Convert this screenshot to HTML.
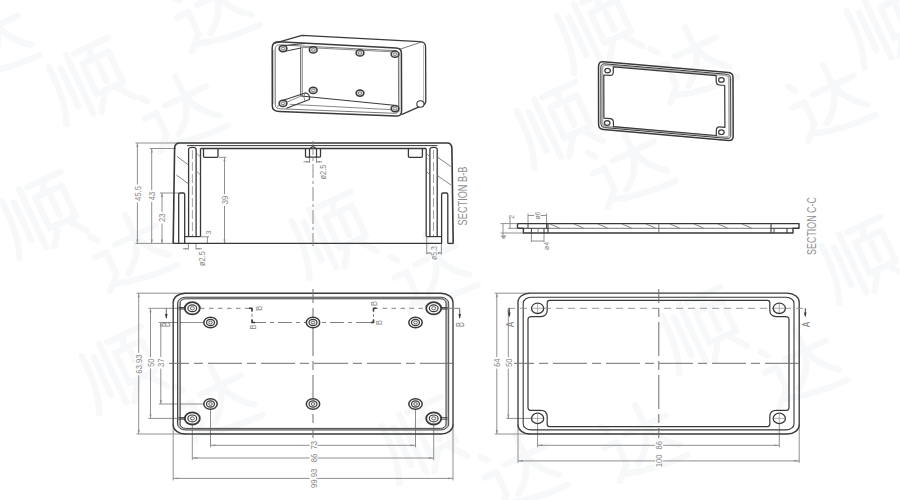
<!DOCTYPE html>
<html><head><meta charset="utf-8"><title>Enclosure drawing</title>
<style>
html,body{margin:0;padding:0;background:#fff;}
body{width:900px;height:500px;overflow:hidden;font-family:"Liberation Sans",sans-serif;}
svg{display:block;}
svg text{font-family:"Liberation Sans",sans-serif;}
</style></head><body>
<svg width="900" height="500" viewBox="0 0 900 500">
<rect width="900" height="500" fill="#fff"/>
<g fill="none" stroke="#f7f8fa" stroke-width="8" stroke-linecap="round" stroke-linejoin="round">
<path d="M14,14 Q16,60 4,88 M27,22 V74 M40,10 V90 M50,12 H96 M72,12 L66,26 M54,28 H90 V70 H54 Z M72,36 V60 M63,74 L50,93 M81,74 L95,93" transform="translate(87,81) rotate(-25) scale(0.8) translate(-50,-50)"/>
<path d="M12,14 L18,22 M6,40 H22 V70 L6,86 M14,80 Q50,92 96,92 M36,36 H92 M63,8 V36 Q58,62 36,76 M64,38 Q72,62 92,76" transform="translate(180,111) rotate(-25) scale(0.8) translate(-50,-50)"/>
<path d="M12,14 L18,22 M6,40 H22 V70 L6,86 M14,80 Q50,92 96,92 M36,36 H92 M63,8 V36 Q58,62 36,76 M64,38 Q72,62 92,76" transform="translate(212,10) rotate(-25) scale(0.8) translate(-50,-50)"/>
<path d="M12,14 L18,22 M6,40 H22 V70 L6,86 M14,80 Q50,92 96,92 M36,36 H92 M63,8 V36 Q58,62 36,76 M64,38 Q72,62 92,76" transform="translate(-8,40) rotate(-25) scale(0.8) translate(-50,-50)"/>
<path d="M14,14 Q16,60 4,88 M27,22 V74 M40,10 V90 M50,12 H96 M72,12 L66,26 M54,28 H90 V70 H54 Z M72,36 V60 M63,74 L50,93 M81,74 L95,93" transform="translate(595,30) rotate(-25) scale(0.8) translate(-50,-50)"/>
<path d="M12,14 L18,22 M6,40 H22 V70 L6,86 M14,80 Q50,92 96,92 M36,36 H92 M63,8 V36 Q58,62 36,76 M64,38 Q72,62 92,76" transform="translate(690,62) rotate(-25) scale(0.8) translate(-50,-50)"/>
<path d="M14,14 Q16,60 4,88 M27,22 V74 M40,10 V90 M50,12 H96 M72,12 L66,26 M54,28 H90 V70 H54 Z M72,36 V60 M63,74 L50,93 M81,74 L95,93" transform="translate(555,125) rotate(-25) scale(0.8) translate(-50,-50)"/>
<path d="M12,14 L18,22 M6,40 H22 V70 L6,86 M14,80 Q50,92 96,92 M36,36 H92 M63,8 V36 Q58,62 36,76 M64,38 Q72,62 92,76" transform="translate(628,166) rotate(-25) scale(0.8) translate(-50,-50)"/>
<path d="M12,14 L18,22 M6,40 H22 V70 L6,86 M14,80 Q50,92 96,92 M36,36 H92 M63,8 V36 Q58,62 36,76 M64,38 Q72,62 92,76" transform="translate(828,100) rotate(-25) scale(0.8) translate(-50,-50)"/>
<path d="M14,14 Q16,60 4,88 M27,22 V74 M40,10 V90 M50,12 H96 M72,12 L66,26 M54,28 H90 V70 H54 Z M72,36 V60 M63,74 L50,93 M81,74 L95,93" transform="translate(885,25) rotate(-25) scale(0.8) translate(-50,-50)"/>
<path d="M14,14 Q16,60 4,88 M27,22 V74 M40,10 V90 M50,12 H96 M72,12 L66,26 M54,28 H90 V70 H54 Z M72,36 V60 M63,74 L50,93 M81,74 L95,93" transform="translate(40,215) rotate(-25) scale(0.8) translate(-50,-50)"/>
<path d="M12,14 L18,22 M6,40 H22 V70 L6,86 M14,80 Q50,92 96,92 M36,36 H92 M63,8 V36 Q58,62 36,76 M64,38 Q72,62 92,76" transform="translate(130,250) rotate(-25) scale(0.8) translate(-50,-50)"/>
<path d="M14,14 Q16,60 4,88 M27,22 V74 M40,10 V90 M50,12 H96 M72,12 L66,26 M54,28 H90 V70 H54 Z M72,36 V60 M63,74 L50,93 M81,74 L95,93" transform="translate(330,235) rotate(-25) scale(0.8) translate(-50,-50)"/>
<path d="M12,14 L18,22 M6,40 H22 V70 L6,86 M14,80 Q50,92 96,92 M36,36 H92 M63,8 V36 Q58,62 36,76 M64,38 Q72,62 92,76" transform="translate(430,270) rotate(-25) scale(0.8) translate(-50,-50)"/>
<path d="M14,14 Q16,60 4,88 M27,22 V74 M40,10 V90 M50,12 H96 M72,12 L66,26 M54,28 H90 V70 H54 Z M72,36 V60 M63,74 L50,93 M81,74 L95,93" transform="translate(120,370) rotate(-25) scale(0.8) translate(-50,-50)"/>
<path d="M12,14 L18,22 M6,40 H22 V70 L6,86 M14,80 Q50,92 96,92 M36,36 H92 M63,8 V36 Q58,62 36,76 M64,38 Q72,62 92,76" transform="translate(215,400) rotate(-25) scale(0.8) translate(-50,-50)"/>
<path d="M14,14 Q16,60 4,88 M27,22 V74 M40,10 V90 M50,12 H96 M72,12 L66,26 M54,28 H90 V70 H54 Z M72,36 V60 M63,74 L50,93 M81,74 L95,93" transform="translate(700,330) rotate(-25) scale(0.8) translate(-50,-50)"/>
<path d="M12,14 L18,22 M6,40 H22 V70 L6,86 M14,80 Q50,92 96,92 M36,36 H92 M63,8 V36 Q58,62 36,76 M64,38 Q72,62 92,76" transform="translate(800,365) rotate(-25) scale(0.8) translate(-50,-50)"/>
<path d="M14,14 Q16,60 4,88 M27,22 V74 M40,10 V90 M50,12 H96 M72,12 L66,26 M54,28 H90 V70 H54 Z M72,36 V60 M63,74 L50,93 M81,74 L95,93" transform="translate(420,440) rotate(-25) scale(0.8) translate(-50,-50)"/>
<path d="M12,14 L18,22 M6,40 H22 V70 L6,86 M14,80 Q50,92 96,92 M36,36 H92 M63,8 V36 Q58,62 36,76 M64,38 Q72,62 92,76" transform="translate(520,470) rotate(-25) scale(0.8) translate(-50,-50)"/>
<path d="M14,14 Q16,60 4,88 M27,22 V74 M40,10 V90 M50,12 H96 M72,12 L66,26 M54,28 H90 V70 H54 Z M72,36 V60 M63,74 L50,93 M81,74 L95,93" transform="translate(860,260) rotate(-25) scale(0.8) translate(-50,-50)"/>
<path d="M12,14 L18,22 M6,40 H22 V70 L6,86 M14,80 Q50,92 96,92 M36,36 H92 M63,8 V36 Q58,62 36,76 M64,38 Q72,62 92,76" transform="translate(640,440) rotate(-25) scale(0.8) translate(-50,-50)"/>
</g>
<g stroke-linecap="butt" stroke-linejoin="round">
<line x1="136.5" y1="293.2" x2="186" y2="293.2" stroke="#909090" stroke-width="1"/>
<line x1="136.5" y1="434.0" x2="186" y2="434.0" stroke="#909090" stroke-width="1"/>
<line x1="138.7" y1="293.2" x2="138.7" y2="434.0" stroke="#909090" stroke-width="1"/>
<path d="M138.7,293.2 L137.6,297.2 L139.79999999999998,297.2 Z" fill="#909090"/>
<path d="M138.7,434.0 L137.6,430.0 L139.79999999999998,430.0 Z" fill="#909090"/>
<rect x="134.8" y="352.9" width="7.8" height="22.3" fill="#fff"/>
<text transform="translate(142.1,364) rotate(-90)" text-anchor="middle" font-size="9.5" textLength="19.3" lengthAdjust="spacingAndGlyphs" fill="#858585">63.93</text>
<line x1="148.5" y1="308.3" x2="185" y2="308.3" stroke="#909090" stroke-width="1"/>
<line x1="148.5" y1="418.4" x2="185" y2="418.4" stroke="#909090" stroke-width="1"/>
<line x1="150.5" y1="308.3" x2="150.5" y2="418.4" stroke="#909090" stroke-width="1"/>
<path d="M150.5,308.3 L149.4,312.3 L151.6,312.3 Z" fill="#909090"/>
<path d="M150.5,418.4 L149.4,414.4 L151.6,414.4 Z" fill="#909090"/>
<rect x="146.6" y="357.0" width="7.8" height="11.6" fill="#fff"/>
<text transform="translate(153.9,362.8) rotate(-90)" text-anchor="middle" font-size="9.5" textLength="8.6" lengthAdjust="spacingAndGlyphs" fill="#858585">50</text>
<line x1="158.8" y1="322.5" x2="204" y2="322.5" stroke="#909090" stroke-width="1"/>
<line x1="158.8" y1="404" x2="204" y2="404" stroke="#909090" stroke-width="1"/>
<line x1="160.8" y1="322.5" x2="160.8" y2="404" stroke="#909090" stroke-width="1"/>
<path d="M160.8,322.5 L159.70000000000002,326.5 L161.9,326.5 Z" fill="#909090"/>
<path d="M160.8,404 L159.70000000000002,400 L161.9,400 Z" fill="#909090"/>
<rect x="156.9" y="357.0" width="7.8" height="11.6" fill="#fff"/>
<text transform="translate(164.2,362.8) rotate(-90)" text-anchor="middle" font-size="9.5" textLength="8.6" lengthAdjust="spacingAndGlyphs" fill="#858585">37</text>
<line x1="210.5" y1="404" x2="210.5" y2="447.3" stroke="#909090" stroke-width="1"/>
<line x1="415.5" y1="404" x2="415.5" y2="447.3" stroke="#909090" stroke-width="1"/>
<line x1="210.5" y1="445.3" x2="415.5" y2="445.3" stroke="#909090" stroke-width="1"/>
<path d="M210.5,445.3 L215.5,444.40000000000003 L215.5,446.2 Z" fill="#909090"/>
<path d="M415.5,445.3 L410.5,444.40000000000003 L410.5,446.2 Z" fill="#909090"/>
<rect x="309.6" y="439.5" width="7.8" height="11.6" fill="#fff"/>
<text transform="translate(316.9,445.3) rotate(-90)" text-anchor="middle" font-size="9.5" textLength="8.6" lengthAdjust="spacingAndGlyphs" fill="#858585">73</text>
<line x1="192.3" y1="418.4" x2="192.3" y2="460" stroke="#909090" stroke-width="1"/>
<line x1="433.7" y1="418.4" x2="433.7" y2="460" stroke="#909090" stroke-width="1"/>
<line x1="192.3" y1="458" x2="433.7" y2="458" stroke="#909090" stroke-width="1"/>
<path d="M192.3,458 L197.3,457.1 L197.3,458.9 Z" fill="#909090"/>
<path d="M433.7,458 L428.7,457.1 L428.7,458.9 Z" fill="#909090"/>
<rect x="309.6" y="452.2" width="7.8" height="11.6" fill="#fff"/>
<text transform="translate(316.9,458) rotate(-90)" text-anchor="middle" font-size="9.5" textLength="8.6" lengthAdjust="spacingAndGlyphs" fill="#858585">86</text>
<line x1="173.2" y1="424" x2="173.2" y2="480.4" stroke="#909090" stroke-width="1"/>
<line x1="453.0" y1="424" x2="453.0" y2="480.4" stroke="#909090" stroke-width="1"/>
<line x1="173.2" y1="478.4" x2="453.0" y2="478.4" stroke="#909090" stroke-width="1"/>
<path d="M173.2,478.4 L178.2,477.5 L178.2,479.29999999999995 Z" fill="#909090"/>
<path d="M453.0,478.4 L448.0,477.5 L448.0,479.29999999999995 Z" fill="#909090"/>
<rect x="309.6" y="467.2" width="7.8" height="22.3" fill="#fff"/>
<text transform="translate(316.9,478.4) rotate(-90)" text-anchor="middle" font-size="9.5" textLength="19.3" lengthAdjust="spacingAndGlyphs" fill="#858585">99.93</text>
<rect x="173.2" y="293.2" width="279.8" height="140.8" rx="12" ry="9" stroke="#383838" stroke-width="1.35" fill="none"/>
<path d="M185.5,297.2 H440.7 A8,6 0 0 1 448.7,303.2 V424.0 A8,6 0 0 1 440.7,430.0 H185.5 A8,6 0 0 1 177.5,424.0 V303.2 A8,6 0 0 1 185.5,297.2 Z M185.7,298.8 H440.5 A5.5,4.2 0 0 1 446.0,303.0 V424.20000000000005 A5.5,4.2 0 0 1 440.5,428.40000000000003 H185.7 A5.5,4.2 0 0 1 180.2,424.20000000000005 V303.0 A5.5,4.2 0 0 1 185.7,298.8 Z" fill="#c2c2c2" fill-rule="evenodd" stroke="none"/>
<rect x="177.5" y="297.2" width="271.2" height="132.8" rx="8" ry="6" stroke="#383838" stroke-width="0.9" fill="none"/>
<rect x="180.2" y="298.8" width="265.8" height="129.60000000000002" rx="5.5" ry="4.2" stroke="#383838" stroke-width="0.9" fill="none"/>
<line x1="313.0" y1="289" x2="313.0" y2="438" stroke="#6e6e6e" stroke-width="1" stroke-dasharray="34 5 9 5" stroke-dashoffset="20"/>
<line x1="169" y1="363.3" x2="457" y2="363.3" stroke="#6e6e6e" stroke-width="1" stroke-dasharray="34 5 9 5" stroke-dashoffset="14"/>
<line x1="200" y1="308.3" x2="252" y2="308.3" stroke="#808080" stroke-width="1" stroke-dasharray="4.5 4.5"/>
<line x1="252" y1="308.3" x2="252" y2="322.5" stroke="#808080" stroke-width="1" stroke-dasharray="3 2.5"/>
<line x1="252" y1="322.5" x2="373.5" y2="322.5" stroke="#808080" stroke-width="1" stroke-dasharray="14 4 4 4"/>
<line x1="373.5" y1="322.5" x2="373.5" y2="308.3" stroke="#808080" stroke-width="1" stroke-dasharray="3 2.5"/>
<line x1="373.5" y1="308.3" x2="426" y2="308.3" stroke="#808080" stroke-width="1" stroke-dasharray="4.5 4.5"/>
<line x1="441" y1="308.3" x2="459.7" y2="308.3" stroke="#808080" stroke-width="1"/>
<path d="M249,308.3 H252 V311.5" stroke="#383838" stroke-width="1.6" fill="none"/>
<path d="M252,319.5 V322.5 H255" stroke="#383838" stroke-width="1.6" fill="none"/>
<path d="M376.5,308.3 H373.5 V311.5" stroke="#383838" stroke-width="1.6" fill="none"/>
<path d="M373.5,319.5 V322.5 H370.5" stroke="#383838" stroke-width="1.6" fill="none"/>
<line x1="166.3" y1="308.3" x2="166.3" y2="318" stroke="#666" stroke-width="1"/>
<path d="M166.3,319 L165.0,314 L167.60000000000002,314 Z" fill="#383838"/>
<line x1="459.7" y1="308.3" x2="459.7" y2="318" stroke="#666" stroke-width="1"/>
<path d="M459.7,319 L458.4,314 L461.0,314 Z" fill="#383838"/>
<text transform="translate(169.6,324.6) rotate(-90)" text-anchor="middle" font-size="11" textLength="5" lengthAdjust="spacingAndGlyphs" fill="#858585">B</text>
<text transform="translate(463.7,324.6) rotate(-90)" text-anchor="middle" font-size="11" textLength="5" lengthAdjust="spacingAndGlyphs" fill="#858585">B</text>
<text transform="translate(262.0,308.3) rotate(-90)" text-anchor="middle" font-size="9.5" textLength="5" lengthAdjust="spacingAndGlyphs" fill="#858585">B</text>
<text transform="translate(256.0,327.0) rotate(-90)" text-anchor="middle" font-size="9.5" textLength="5" lengthAdjust="spacingAndGlyphs" fill="#858585">B</text>
<text transform="translate(376.8,303.6) rotate(-90)" text-anchor="middle" font-size="9.5" textLength="5" lengthAdjust="spacingAndGlyphs" fill="#858585">B</text>
<text transform="translate(382.4,322.5) rotate(-90)" text-anchor="middle" font-size="9.5" textLength="5" lengthAdjust="spacingAndGlyphs" fill="#858585">B</text>
<ellipse cx="192.3" cy="308.3" rx="7.5" ry="6.1" stroke="#383838" stroke-width="1.8" fill="#fff"/>
<ellipse cx="192.3" cy="308.3" rx="4.4" ry="3.4" stroke="#383838" stroke-width="1.2" fill="none"/>
<ellipse cx="192.3" cy="308.3" rx="2.0" ry="1.6" stroke="#383838" stroke-width="0.8" fill="none"/>
<ellipse cx="433.7" cy="308.3" rx="7.5" ry="6.1" stroke="#383838" stroke-width="1.8" fill="#fff"/>
<ellipse cx="433.7" cy="308.3" rx="4.4" ry="3.4" stroke="#383838" stroke-width="1.2" fill="none"/>
<ellipse cx="433.7" cy="308.3" rx="2.0" ry="1.6" stroke="#383838" stroke-width="0.8" fill="none"/>
<ellipse cx="192.3" cy="418.4" rx="7.5" ry="6.1" stroke="#383838" stroke-width="1.8" fill="#fff"/>
<ellipse cx="192.3" cy="418.4" rx="4.4" ry="3.4" stroke="#383838" stroke-width="1.2" fill="none"/>
<ellipse cx="192.3" cy="418.4" rx="2.0" ry="1.6" stroke="#383838" stroke-width="0.8" fill="none"/>
<ellipse cx="433.7" cy="418.4" rx="7.5" ry="6.1" stroke="#383838" stroke-width="1.8" fill="#fff"/>
<ellipse cx="433.7" cy="418.4" rx="4.4" ry="3.4" stroke="#383838" stroke-width="1.2" fill="none"/>
<ellipse cx="433.7" cy="418.4" rx="2.0" ry="1.6" stroke="#383838" stroke-width="0.8" fill="none"/>
<ellipse cx="210.5" cy="322.5" rx="6.7" ry="5.3" stroke="#383838" stroke-width="1.5" fill="#fff"/>
<ellipse cx="210.5" cy="322.5" rx="4.0" ry="3.1" stroke="#383838" stroke-width="1.2" fill="none"/>
<ellipse cx="210.5" cy="322.5" rx="1.8" ry="1.4" stroke="#383838" stroke-width="0.8" fill="none"/>
<ellipse cx="210.5" cy="404.0" rx="6.7" ry="5.3" stroke="#383838" stroke-width="1.5" fill="#fff"/>
<ellipse cx="210.5" cy="404.0" rx="4.0" ry="3.1" stroke="#383838" stroke-width="1.2" fill="none"/>
<ellipse cx="210.5" cy="404.0" rx="1.8" ry="1.4" stroke="#383838" stroke-width="0.8" fill="none"/>
<ellipse cx="313.0" cy="322.5" rx="6.7" ry="5.3" stroke="#383838" stroke-width="1.5" fill="#fff"/>
<ellipse cx="313.0" cy="322.5" rx="4.0" ry="3.1" stroke="#383838" stroke-width="1.2" fill="none"/>
<ellipse cx="313.0" cy="322.5" rx="1.8" ry="1.4" stroke="#383838" stroke-width="0.8" fill="none"/>
<ellipse cx="313.0" cy="404.0" rx="6.7" ry="5.3" stroke="#383838" stroke-width="1.5" fill="#fff"/>
<ellipse cx="313.0" cy="404.0" rx="4.0" ry="3.1" stroke="#383838" stroke-width="1.2" fill="none"/>
<ellipse cx="313.0" cy="404.0" rx="1.8" ry="1.4" stroke="#383838" stroke-width="0.8" fill="none"/>
<ellipse cx="415.5" cy="322.5" rx="6.7" ry="5.3" stroke="#383838" stroke-width="1.5" fill="#fff"/>
<ellipse cx="415.5" cy="322.5" rx="4.0" ry="3.1" stroke="#383838" stroke-width="1.2" fill="none"/>
<ellipse cx="415.5" cy="322.5" rx="1.8" ry="1.4" stroke="#383838" stroke-width="0.8" fill="none"/>
<ellipse cx="415.5" cy="404.0" rx="6.7" ry="5.3" stroke="#383838" stroke-width="1.5" fill="#fff"/>
<ellipse cx="415.5" cy="404.0" rx="4.0" ry="3.1" stroke="#383838" stroke-width="1.2" fill="none"/>
<ellipse cx="415.5" cy="404.0" rx="1.8" ry="1.4" stroke="#383838" stroke-width="0.8" fill="none"/>
<path d="M178.5,307.5 H185 M178.5,309.1 H185" stroke="#383838" stroke-width="0.9" fill="none"/>
<path d="M447.5,307.5 H441 M447.5,309.1 H441" stroke="#383838" stroke-width="0.9" fill="none"/>
<path d="M178.5,417.59999999999997 H185 M178.5,419.2 H185" stroke="#383838" stroke-width="0.9" fill="none"/>
<path d="M447.5,417.59999999999997 H441 M447.5,419.2 H441" stroke="#383838" stroke-width="0.9" fill="none"/>
<line x1="494.8" y1="293.2" x2="530" y2="293.2" stroke="#909090" stroke-width="1"/>
<line x1="494.8" y1="434.0" x2="530" y2="434.0" stroke="#909090" stroke-width="1"/>
<line x1="496.8" y1="293.2" x2="496.8" y2="434.0" stroke="#909090" stroke-width="1"/>
<path d="M496.8,293.2 L495.7,297.2 L497.90000000000003,297.2 Z" fill="#909090"/>
<path d="M496.8,434.0 L495.7,430.0 L497.90000000000003,430.0 Z" fill="#909090"/>
<rect x="492.9" y="357.0" width="7.8" height="11.6" fill="#fff"/>
<text transform="translate(500.2,362.8) rotate(-90)" text-anchor="middle" font-size="9.5" textLength="8.6" lengthAdjust="spacingAndGlyphs" fill="#858585">64</text>
<line x1="506.3" y1="418.4" x2="531" y2="418.4" stroke="#909090" stroke-width="1"/>
<line x1="508.3" y1="308.3" x2="508.3" y2="418.4" stroke="#909090" stroke-width="1"/>
<path d="M508.3,308.3 L507.2,312.3 L509.40000000000003,312.3 Z" fill="#909090"/>
<path d="M508.3,418.4 L507.2,414.4 L509.40000000000003,414.4 Z" fill="#909090"/>
<rect x="504.4" y="357.0" width="7.8" height="11.6" fill="#fff"/>
<text transform="translate(511.7,362.8) rotate(-90)" text-anchor="middle" font-size="9.5" textLength="8.6" lengthAdjust="spacingAndGlyphs" fill="#858585">50</text>
<line x1="537.6" y1="418.4" x2="537.6" y2="447.3" stroke="#909090" stroke-width="1"/>
<line x1="779.3" y1="418.4" x2="779.3" y2="447.3" stroke="#909090" stroke-width="1"/>
<line x1="537.6" y1="445.3" x2="779.3" y2="445.3" stroke="#909090" stroke-width="1"/>
<path d="M537.6,445.3 L542.6,444.40000000000003 L542.6,446.2 Z" fill="#909090"/>
<path d="M779.3,445.3 L774.3,444.40000000000003 L774.3,446.2 Z" fill="#909090"/>
<rect x="655.1" y="439.5" width="7.8" height="11.6" fill="#fff"/>
<text transform="translate(662.4,445.3) rotate(-90)" text-anchor="middle" font-size="9.5" textLength="8.6" lengthAdjust="spacingAndGlyphs" fill="#858585">86</text>
<line x1="518.0" y1="424" x2="518.0" y2="462.9" stroke="#909090" stroke-width="1"/>
<line x1="799.2" y1="424" x2="799.2" y2="462.9" stroke="#909090" stroke-width="1"/>
<line x1="518.0" y1="460.9" x2="799.2" y2="460.9" stroke="#909090" stroke-width="1"/>
<path d="M518.0,460.9 L523.0,460.0 L523.0,461.79999999999995 Z" fill="#909090"/>
<path d="M799.2,460.9 L794.2,460.0 L794.2,461.79999999999995 Z" fill="#909090"/>
<rect x="655.1" y="452.9" width="7.8" height="15.9" fill="#fff"/>
<text transform="translate(662.4,460.9) rotate(-90)" text-anchor="middle" font-size="9.5" textLength="12.9" lengthAdjust="spacingAndGlyphs" fill="#858585">100</text>
<rect x="518.0" y="293.2" width="281.20000000000005" height="140.8" rx="12" ry="9" stroke="#383838" stroke-width="1.3" fill="none"/>
<rect x="523.2" y="297.3" width="270.80000000000007" height="132.60000000000002" rx="8" ry="6" stroke="#383838" stroke-width="1.1" fill="none"/>
<path d="M549.6,300.4 H767.4 Q769.8,300.4 769.8,302.79999999999995 V310.09999999999997 Q769.8,316.59999999999997 776.3,316.59999999999997 H785.5 Q789.0,316.59999999999997 789.0,319.59999999999997 V407.40000000000003 Q789.0,410.40000000000003 785.5,410.40000000000003 H776.3 Q769.8,410.40000000000003 769.8,416.90000000000003 V424.20000000000005 Q769.8,426.6 767.4,426.6 H549.6 Q547.2,426.6 547.2,424.20000000000005 V416.90000000000003 Q547.2,410.40000000000003 540.7,410.40000000000003 H531.5 Q528.0,410.40000000000003 528.0,407.40000000000003 V319.59999999999997 Q528.0,316.59999999999997 531.5,316.59999999999997 H540.7 Q547.2,316.59999999999997 547.2,310.09999999999997 V302.79999999999995 Q547.2,300.4 549.6,300.4 Z" stroke="#383838" stroke-width="1.2" fill="none"/>
<line x1="658.8" y1="289" x2="658.8" y2="438" stroke="#6e6e6e" stroke-width="1" stroke-dasharray="34 5 9 5" stroke-dashoffset="20"/>
<line x1="514" y1="363.3" x2="803.5" y2="363.3" stroke="#6e6e6e" stroke-width="1" stroke-dasharray="34 5 9 5" stroke-dashoffset="14"/>
<line x1="508" y1="308.3" x2="806" y2="308.3" stroke="#8c8c8c" stroke-width="0.9" stroke-dasharray="7 5"/>
<ellipse cx="537.6" cy="308.3" rx="6.1" ry="5.2" stroke="#383838" stroke-width="1.3" fill="#fff"/>
<line x1="532.1" y1="308.3" x2="543.1" y2="308.3" stroke="#8c8c8c" stroke-width="0.7"/>
<line x1="537.6" y1="303.5" x2="537.6" y2="313.1" stroke="#8c8c8c" stroke-width="0.7"/>
<ellipse cx="537.6" cy="418.4" rx="6.1" ry="5.2" stroke="#383838" stroke-width="1.3" fill="#fff"/>
<line x1="532.1" y1="418.4" x2="543.1" y2="418.4" stroke="#8c8c8c" stroke-width="0.7"/>
<line x1="537.6" y1="413.59999999999997" x2="537.6" y2="423.2" stroke="#8c8c8c" stroke-width="0.7"/>
<ellipse cx="779.3" cy="308.3" rx="6.1" ry="5.2" stroke="#383838" stroke-width="1.3" fill="#fff"/>
<line x1="773.8" y1="308.3" x2="784.8" y2="308.3" stroke="#8c8c8c" stroke-width="0.7"/>
<line x1="779.3" y1="303.5" x2="779.3" y2="313.1" stroke="#8c8c8c" stroke-width="0.7"/>
<ellipse cx="779.3" cy="418.4" rx="6.1" ry="5.2" stroke="#383838" stroke-width="1.3" fill="#fff"/>
<line x1="773.8" y1="418.4" x2="784.8" y2="418.4" stroke="#8c8c8c" stroke-width="0.7"/>
<line x1="779.3" y1="413.59999999999997" x2="779.3" y2="423.2" stroke="#8c8c8c" stroke-width="0.7"/>
<line x1="509.3" y1="308.3" x2="509.3" y2="316" stroke="#383838" stroke-width="1"/>
<path d="M509.3,317.5 L508.0,312.5 L510.6,312.5 Z" fill="#383838"/>
<line x1="805.3" y1="308.3" x2="805.3" y2="316" stroke="#383838" stroke-width="1"/>
<path d="M805.3,317.5 L804.0,312.5 L806.5999999999999,312.5 Z" fill="#383838"/>
<text transform="translate(514.1,324.6) rotate(-90)" text-anchor="middle" font-size="10" textLength="5.5" lengthAdjust="spacingAndGlyphs" fill="#858585">A</text>
<text transform="translate(809.6,324.6) rotate(-90)" text-anchor="middle" font-size="10" textLength="5.5" lengthAdjust="spacingAndGlyphs" fill="#858585">A</text>
<line x1="135.5" y1="143.0" x2="178" y2="143.0" stroke="#909090" stroke-width="1"/>
<line x1="135.5" y1="243.4" x2="176" y2="243.4" stroke="#909090" stroke-width="1"/>
<line x1="137.4" y1="143.0" x2="137.4" y2="243.4" stroke="#909090" stroke-width="1"/>
<path d="M137.4,143.0 L136.3,147.0 L138.5,147.0 Z" fill="#909090"/>
<path d="M137.4,243.4 L136.3,239.4 L138.5,239.4 Z" fill="#909090"/>
<rect x="133.5" y="184.5" width="7.8" height="18.0" fill="#fff"/>
<text transform="translate(140.8,193.5) rotate(-90)" text-anchor="middle" font-size="9.5" textLength="15.0" lengthAdjust="spacingAndGlyphs" fill="#858585">45.5</text>
<line x1="149.7" y1="148.5" x2="176" y2="148.5" stroke="#909090" stroke-width="1"/>
<line x1="151.7" y1="148.5" x2="151.7" y2="243.4" stroke="#909090" stroke-width="1"/>
<path d="M151.7,148.5 L150.6,152.5 L152.79999999999998,152.5 Z" fill="#909090"/>
<path d="M151.7,243.4 L150.6,239.4 L152.79999999999998,239.4 Z" fill="#909090"/>
<rect x="147.8" y="190.2" width="7.8" height="11.6" fill="#fff"/>
<text transform="translate(155.1,196) rotate(-90)" text-anchor="middle" font-size="9.5" textLength="8.6" lengthAdjust="spacingAndGlyphs" fill="#858585">43</text>
<line x1="160" y1="193" x2="179" y2="193" stroke="#909090" stroke-width="1"/>
<line x1="162" y1="193" x2="162" y2="243.4" stroke="#909090" stroke-width="1"/>
<path d="M162,193 L160.9,197 L163.1,197 Z" fill="#909090"/>
<path d="M162,243.4 L160.9,239.4 L163.1,239.4 Z" fill="#909090"/>
<rect x="158.1" y="211.9" width="7.8" height="11.6" fill="#fff"/>
<text transform="translate(165.4,217.7) rotate(-90)" text-anchor="middle" font-size="9.5" textLength="8.6" lengthAdjust="spacingAndGlyphs" fill="#858585">23</text>
<line x1="219" y1="157.3" x2="226.5" y2="157.3" stroke="#909090" stroke-width="1"/>
<line x1="224.5" y1="157.3" x2="224.5" y2="243.4" stroke="#909090" stroke-width="1"/>
<path d="M224.5,157.3 L223.4,161.3 L225.6,161.3 Z" fill="#909090"/>
<path d="M224.5,243.4 L223.4,239.4 L225.6,239.4 Z" fill="#909090"/>
<rect x="220.6" y="194.2" width="7.8" height="11.6" fill="#fff"/>
<text transform="translate(227.9,200) rotate(-90)" text-anchor="middle" font-size="9.5" textLength="8.6" lengthAdjust="spacingAndGlyphs" fill="#858585">39</text>
<line x1="201" y1="236.8" x2="209.3" y2="236.8" stroke="#909090" stroke-width="1"/>
<line x1="207.4" y1="236.8" x2="207.4" y2="243.4" stroke="#909090" stroke-width="1"/>
<text transform="translate(210.5,232.6) rotate(-90)" text-anchor="middle" font-size="8" textLength="4" lengthAdjust="spacingAndGlyphs" fill="#858585">3</text>
<line x1="188.4" y1="243.4" x2="188.4" y2="249.5" stroke="#909090" stroke-width="1"/>
<line x1="196" y1="243.4" x2="196" y2="249.5" stroke="#909090" stroke-width="1"/>
<line x1="183" y1="248.8" x2="188.4" y2="248.8" stroke="#909090" stroke-width="1"/>
<line x1="196" y1="248.8" x2="202" y2="248.8" stroke="#909090" stroke-width="1"/>
<path d="M188.4,248.8 L184.9,248.0 L184.9,249.60000000000002 Z" fill="#909090"/>
<path d="M196,248.8 L199.5,248.0 L199.5,249.60000000000002 Z" fill="#909090"/>
<text transform="translate(205.1,258.6) rotate(-90)" text-anchor="middle" font-size="8.5" textLength="15.0" lengthAdjust="spacingAndGlyphs" fill="#858585">ø2.5</text>
<line x1="426.7" y1="237" x2="426.7" y2="254.5" stroke="#909090" stroke-width="1"/>
<line x1="441.4" y1="243" x2="441.4" y2="254.5" stroke="#909090" stroke-width="1"/>
<line x1="426.7" y1="253" x2="441.4" y2="253" stroke="#909090" stroke-width="1"/>
<path d="M426.7,253 L430.2,252.2 L430.2,253.8 Z" fill="#909090"/>
<path d="M441.4,253 L437.9,252.2 L437.9,253.8 Z" fill="#909090"/>
<rect x="430.6" y="244.5" width="7.1" height="17.0" fill="#fff"/>
<text transform="translate(437.3,253) rotate(-90)" text-anchor="middle" font-size="8.5" textLength="14.0" lengthAdjust="spacingAndGlyphs" fill="#858585">ø5.3</text>
<line x1="303.5" y1="161.8" x2="309.5" y2="161.8" stroke="#909090" stroke-width="1"/>
<line x1="316.5" y1="161.8" x2="322" y2="161.8" stroke="#909090" stroke-width="1"/>
<path d="M309.5,161.8 L306.0,161.0 L306.0,162.60000000000002 Z" fill="#909090"/>
<path d="M316.5,161.8 L320.0,161.0 L320.0,162.60000000000002 Z" fill="#909090"/>
<line x1="309.5" y1="157.2" x2="309.5" y2="163" stroke="#909090" stroke-width="1"/>
<line x1="316.5" y1="157.2" x2="316.5" y2="163" stroke="#909090" stroke-width="1"/>
<text transform="translate(325.7,172) rotate(-90)" text-anchor="middle" font-size="8.5" textLength="15.0" lengthAdjust="spacingAndGlyphs" fill="#858585">ø2.5</text>
<path d="M173.2,243.4 L174.6,148 Q174.8,143.0 180,143.0 H447 Q451.6,143.0 451.9,148 L453.2,243.4" stroke="#383838" stroke-width="1.6" fill="none"/>
<line x1="173.2" y1="243.4" x2="441.6" y2="243.4" stroke="#383838" stroke-width="1.4"/>
<line x1="447.8" y1="243.4" x2="453.2" y2="243.4" stroke="#383838" stroke-width="1.4"/>
<line x1="187" y1="145.6" x2="437.5" y2="145.6" stroke="#383838" stroke-width="1.0"/>
<line x1="200.5" y1="148.5" x2="426.2" y2="148.5" stroke="#383838" stroke-width="1.3"/>
<path d="M178.7,243.4 V194.5 Q178.7,193 180.2,193 H183.2 Q184.7,193 184.7,194.5 V243.4" stroke="#383838" stroke-width="1.3" fill="none"/>
<path d="M188.6,236.6 V149.2 Q188.6,147.3 192.4,147.3 Q196.1,147.3 196.1,149.2 V236.6" stroke="#383838" stroke-width="1.3" fill="none"/>
<line x1="192.4" y1="150" x2="192.4" y2="236" stroke="#8a8a8a" stroke-width="0.8" stroke-dasharray="9 3"/>
<line x1="200.5" y1="148.5" x2="200.5" y2="236.6" stroke="#383838" stroke-width="1.3"/>
<line x1="184.7" y1="236.6" x2="200.5" y2="236.6" stroke="#383838" stroke-width="1.2"/>
<line x1="177" y1="156.5" x2="188.6" y2="165" stroke="#666" stroke-width="0.8"/>
<line x1="176.5" y1="175" x2="188.6" y2="184" stroke="#666" stroke-width="0.8"/>
<line x1="176" y1="160" x2="176" y2="160" stroke="#666" stroke-width="0.8"/>
<line x1="196.3" y1="153" x2="200.5" y2="157" stroke="#666" stroke-width="0.7"/>
<line x1="196.3" y1="171" x2="200.5" y2="175" stroke="#666" stroke-width="0.7"/>
<path d="M203.5,148.5 V156.2 Q203.5,157.3 204.5,157.3 H217.0 Q218.0,157.3 218.0,156.2 V148.5" stroke="#383838" stroke-width="1.3" fill="none"/>
<path d="M408.4,148.5 V156.2 Q408.4,157.3 409.4,157.3 H421.4 Q422.4,157.3 422.4,156.2 V148.5" stroke="#383838" stroke-width="1.3" fill="none"/>
<path d="M305.5,148.5 V156 Q305.5,157.2 306.7,157.2 H319.3 Q320.5,157.2 320.5,156 V148.5" stroke="#383838" stroke-width="1.3" fill="none"/>
<path d="M309.5,157.2 V149 L313,146.2 L316.5,149 V157.2" stroke="#383838" stroke-width="1.2" fill="none"/>
<line x1="313" y1="141" x2="313" y2="246" stroke="#808080" stroke-width="0.9" stroke-dasharray="14 3 3 3"/>
<path d="M429.9,236.6 V149.2 Q429.9,147.3 433.5,147.3 Q437.2,147.3 437.2,149.2 V236.6" stroke="#383838" stroke-width="1.3" fill="none"/>
<line x1="433.5" y1="150" x2="433.5" y2="236" stroke="#8a8a8a" stroke-width="0.8" stroke-dasharray="9 3"/>
<line x1="426.2" y1="148.5" x2="426.2" y2="236.6" stroke="#383838" stroke-width="1.3"/>
<line x1="426.2" y1="236.6" x2="441.6" y2="236.6" stroke="#383838" stroke-width="1.2"/>
<path d="M441.6,243.4 V194.5 Q441.6,193 443.1,193 H446.3 Q447.8,193 447.8,194.5 V243.4" stroke="#383838" stroke-width="1.3" fill="none"/>
<line x1="438" y1="157.5" x2="450.8" y2="166.5" stroke="#666" stroke-width="0.8"/>
<line x1="438" y1="176" x2="451" y2="185" stroke="#666" stroke-width="0.8"/>
<line x1="426.2" y1="153" x2="429.9" y2="157" stroke="#666" stroke-width="0.7"/>
<line x1="426.2" y1="171" x2="429.9" y2="175" stroke="#666" stroke-width="0.7"/>
<text transform="translate(466.8,196) rotate(-90)" text-anchor="middle" font-size="12.5" textLength="58.8" lengthAdjust="spacingAndGlyphs" fill="#909090">SECTION B-B</text>
<line x1="503" y1="223.6" x2="503" y2="233.0" stroke="#909090" stroke-width="1"/>
<line x1="500.5" y1="223.6" x2="519" y2="223.6" stroke="#909090" stroke-width="1"/>
<line x1="500.5" y1="233.0" x2="524" y2="233.0" stroke="#909090" stroke-width="1"/>
<line x1="510" y1="223.6" x2="510" y2="228.3" stroke="#909090" stroke-width="1"/>
<line x1="508" y1="228.3" x2="519" y2="228.3" stroke="#909090" stroke-width="1"/>
<line x1="503" y1="233.0" x2="503" y2="239" stroke="#909090" stroke-width="1"/>
<line x1="510" y1="223.6" x2="510" y2="217" stroke="#909090" stroke-width="1"/>
<text transform="translate(505.9,236.8) rotate(-90)" text-anchor="middle" font-size="8" textLength="4.2" lengthAdjust="spacingAndGlyphs" fill="#858585">4</text>
<text transform="translate(513.5,217) rotate(-90)" text-anchor="middle" font-size="8" textLength="4.2" lengthAdjust="spacingAndGlyphs" fill="#858585">2</text>
<line x1="528" y1="223.6" x2="528" y2="213.5" stroke="#909090" stroke-width="1"/>
<line x1="546.6" y1="223.6" x2="546.6" y2="213.5" stroke="#909090" stroke-width="1"/>
<line x1="528" y1="215.5" x2="546.6" y2="215.5" stroke="#909090" stroke-width="1"/>
<rect x="534.2" y="210.1" width="6.4" height="11.0" fill="#fff"/>
<text transform="translate(540.1,215.6) rotate(-90)" text-anchor="middle" font-size="7.5" textLength="8" lengthAdjust="spacingAndGlyphs" fill="#858585">ø6</text>
<line x1="531.4" y1="233.0" x2="531.4" y2="242" stroke="#909090" stroke-width="1"/>
<line x1="544" y1="233.0" x2="544" y2="242" stroke="#909090" stroke-width="1"/>
<line x1="531.4" y1="241" x2="544" y2="241" stroke="#909090" stroke-width="1"/>
<text transform="translate(548.9,246) rotate(-90)" text-anchor="middle" font-size="7.5" textLength="8" lengthAdjust="spacingAndGlyphs" fill="#858585">ø4</text>
<path d="M518.6,223.6 H799 V228.3 H793 V233.0 H523.4 V228.3 H518.6 Q517.4,228.3 517.4,225.95 Q517.4,223.6 518.6,223.6 Z" stroke="#383838" stroke-width="1.4" fill="none"/>
<line x1="523.4" y1="228.3" x2="548" y2="228.3" stroke="#383838" stroke-width="1.0"/>
<line x1="548" y1="228.3" x2="771" y2="228.3" stroke="#666" stroke-width="0.9"/>
<line x1="771" y1="228.3" x2="793" y2="228.3" stroke="#383838" stroke-width="1.0"/>
<line x1="528" y1="223.6" x2="528" y2="228.3" stroke="#383838" stroke-width="1.0"/>
<line x1="531.4" y1="228.3" x2="531.4" y2="233.0" stroke="#383838" stroke-width="1.0"/>
<line x1="544" y1="228.3" x2="544" y2="233.0" stroke="#383838" stroke-width="1.0"/>
<line x1="546.6" y1="223.6" x2="546.6" y2="228.3" stroke="#383838" stroke-width="1.0"/>
<line x1="538" y1="228.3" x2="538" y2="233.0" stroke="#666" stroke-width="0.8"/>
<line x1="548" y1="223.6" x2="548" y2="233.0" stroke="#383838" stroke-width="1.1"/>
<line x1="771" y1="223.6" x2="771" y2="233.0" stroke="#383838" stroke-width="1.1"/>
<line x1="787" y1="228.3" x2="787" y2="233.0" stroke="#383838" stroke-width="1.1"/>
<line x1="774" y1="228.3" x2="774" y2="233.0" stroke="#383838" stroke-width="0.9"/>
<line x1="658.8" y1="223.6" x2="658.8" y2="233.0" stroke="#666" stroke-width="0.9"/>
<line x1="550" y1="224.1" x2="559.5" y2="228.0" stroke="#666" stroke-width="0.8"/>
<line x1="574" y1="224.1" x2="583.5" y2="228.0" stroke="#666" stroke-width="0.8"/>
<line x1="598" y1="224.1" x2="607.5" y2="228.0" stroke="#666" stroke-width="0.8"/>
<line x1="622" y1="224.1" x2="631.5" y2="228.0" stroke="#666" stroke-width="0.8"/>
<line x1="646" y1="224.1" x2="655.5" y2="228.0" stroke="#666" stroke-width="0.8"/>
<line x1="670" y1="224.1" x2="679.5" y2="228.0" stroke="#666" stroke-width="0.8"/>
<line x1="694" y1="224.1" x2="703.5" y2="228.0" stroke="#666" stroke-width="0.8"/>
<line x1="718" y1="224.1" x2="727.5" y2="228.0" stroke="#666" stroke-width="0.8"/>
<line x1="742" y1="224.1" x2="751.5" y2="228.0" stroke="#666" stroke-width="0.8"/>
<text transform="translate(815.9,226) rotate(-90)" text-anchor="middle" font-size="12.5" textLength="57.8" lengthAdjust="spacingAndGlyphs" fill="#909090">SECTION C-C</text>
<path d="M275,43.2 L302,35.4 L420,41.6 Q425.6,42 425.6,47 L425.8,101 Q425.8,104 423,105.2 L401.5,114.6" stroke="#3a3a3a" stroke-width="1.3" fill="none"/>
<path d="M400,49.2 L421,42.2" stroke="#6a6a6a" stroke-width="0.9" fill="none"/>
<path d="M423.6,45 V103" stroke="#999" stroke-width="0.7" fill="none"/>
<path d="M272.2,48 Q272.2,42 278.5,41.8 L396,48 Q401.4,48.3 401.4,53 L401.6,111 Q401.6,116.4 396,116.1 L279.5,111.6 Q272.4,111.3 272.3,106 Z" stroke="#3a3a3a" stroke-width="1.5" fill="none"/>
<path d="M275.2,49 Q275.2,45 279.5,44.9 L394,50.6 Q398.4,50.9 398.4,54 L398.6,110 Q398.6,113.5 394.5,113.3 L280.5,108.8 Q275.4,108.6 275.3,105 Z" stroke="#6a6a6a" stroke-width="0.9" fill="none"/>
<path d="M399.8,52 V112" stroke="#999" stroke-width="0.7" fill="none"/>
<path d="M273.8,50 V104" stroke="#999" stroke-width="0.7" fill="none"/>
<path d="M300.5,47.5 V96 M302.2,47.8 V96.4" stroke="#6a6a6a" stroke-width="0.9" fill="none"/>
<path d="M301,96 L394,105.2" stroke="#3a3a3a" stroke-width="1.1" fill="none"/>
<path d="M277,106.5 L301,96" stroke="#6a6a6a" stroke-width="0.8" fill="none"/>
<path d="M300,47.2 L396,52" stroke="#6a6a6a" stroke-width="0.8" fill="none"/>
<path d="M290,104.3 L394,109.8" stroke="#6a6a6a" stroke-width="0.8" fill="none"/>
<path d="M284,45.6 L306,43.4 M285.5,51.2 L301,48" stroke="#3a3a3a" stroke-width="1.0" fill="none"/>
<path d="M281.8,100.8 L305.2,92.9 Q310.4,93.4 309.4,99.6 L286.4,108.2" stroke="#3a3a3a" stroke-width="1.1" fill="none"/>
<path d="M305.2,92.9 Q302.6,96.4 305,101" stroke="#6a6a6a" stroke-width="0.8" fill="none"/>
<ellipse cx="283" cy="48.6" rx="3.9" ry="3.1" stroke="#3a3a3a" stroke-width="1.5" fill="#d8d8d8"/>
<ellipse cx="283" cy="48.6" rx="1.7" ry="1.3" stroke="#6a6a6a" stroke-width="0.8" fill="#f4f4f4"/>
<ellipse cx="313.2" cy="49.9" rx="3.9" ry="3.1" stroke="#3a3a3a" stroke-width="1.5" fill="#d8d8d8"/>
<ellipse cx="313.2" cy="49.9" rx="1.7" ry="1.3" stroke="#6a6a6a" stroke-width="0.8" fill="#f4f4f4"/>
<ellipse cx="360" cy="52.9" rx="3.9" ry="3.1" stroke="#3a3a3a" stroke-width="1.5" fill="#d8d8d8"/>
<ellipse cx="360" cy="52.9" rx="1.7" ry="1.3" stroke="#6a6a6a" stroke-width="0.8" fill="#f4f4f4"/>
<ellipse cx="395" cy="54.2" rx="3.9" ry="3.1" stroke="#3a3a3a" stroke-width="1.5" fill="#d8d8d8"/>
<ellipse cx="395" cy="54.2" rx="1.7" ry="1.3" stroke="#6a6a6a" stroke-width="0.8" fill="#f4f4f4"/>
<ellipse cx="313.2" cy="90.4" rx="3.9" ry="3.1" stroke="#3a3a3a" stroke-width="1.5" fill="#d8d8d8"/>
<ellipse cx="313.2" cy="90.4" rx="1.7" ry="1.3" stroke="#6a6a6a" stroke-width="0.8" fill="#f4f4f4"/>
<ellipse cx="360" cy="93.1" rx="3.9" ry="3.1" stroke="#3a3a3a" stroke-width="1.5" fill="#d8d8d8"/>
<ellipse cx="360" cy="93.1" rx="1.7" ry="1.3" stroke="#6a6a6a" stroke-width="0.8" fill="#f4f4f4"/>
<ellipse cx="395" cy="108.6" rx="3.9" ry="3.1" stroke="#3a3a3a" stroke-width="1.5" fill="#d8d8d8"/>
<ellipse cx="395" cy="108.6" rx="1.7" ry="1.3" stroke="#6a6a6a" stroke-width="0.8" fill="#f4f4f4"/>
<ellipse cx="283" cy="103.4" rx="3.9" ry="3.1" stroke="#3a3a3a" stroke-width="1.5" fill="#d8d8d8"/>
<ellipse cx="283" cy="103.4" rx="1.7" ry="1.3" stroke="#6a6a6a" stroke-width="0.8" fill="#f4f4f4"/>
<ellipse cx="420.4" cy="104.0" rx="3.6" ry="3.3" stroke="#3a3a3a" stroke-width="1.1" fill="#fff"/>
<path d="M598.5,67 Q598.5,61.3 603.5,61.7 L728.5,72.4 Q733,72.8 733,77.5 L733.2,136 Q733.2,141 728.5,140.4 L603.5,129.5 Q598.6,129 598.6,124.5 Z" stroke="#3a3a3a" stroke-width="1.5" fill="none"/>
<path d="M602.4,69 Q602.4,64.9 605.5,65.1 L726,75.5 Q728.9,75.8 728.9,79 L729.1,134 Q729.1,137.3 726,137 L605.5,126.3 Q602.5,126 602.5,123.5 Z" stroke="#b0b0b0" stroke-width="1.7" fill="none"/>
<path d="M600.8,68 Q600.8,63.6 604.5,63.8 L727.3,74.3 Q730.6,74.6 730.6,78.3 L730.8,135 Q730.8,138.8 727.3,138.4 L604.5,127.6 Q600.9,127.3 600.9,124 Z" stroke="#3a3a3a" stroke-width="1.0" fill="none"/>
<path d="M613.3,66.8 L716.2,75.6 L716.2,81.5 Q716.4,84.8 719.5,85 L724.7,85.5 L724.9,127.4 L719.6,126.9 Q716.4,126.8 716.3,130.5 L716.3,135.5 L613.5,126.6 L613.4,122 Q613.2,118.8 610,118.6 L603.9,118.1 L603.8,75 L610,75.4 Q613.2,75.5 613.3,72 Z" stroke="#3a3a3a" stroke-width="1.2" fill="none"/>
<ellipse cx="607.6" cy="70.6" rx="2.8" ry="2.3" stroke="#3a3a3a" stroke-width="1.2" fill="#fff"/>
<ellipse cx="721.4" cy="79.9" rx="2.8" ry="2.3" stroke="#3a3a3a" stroke-width="1.2" fill="#fff"/>
<ellipse cx="607.2" cy="123" rx="2.8" ry="2.3" stroke="#3a3a3a" stroke-width="1.2" fill="#fff"/>
<ellipse cx="721.4" cy="132.2" rx="2.8" ry="2.3" stroke="#3a3a3a" stroke-width="1.2" fill="#fff"/>
</g>
</svg>
</body></html>
